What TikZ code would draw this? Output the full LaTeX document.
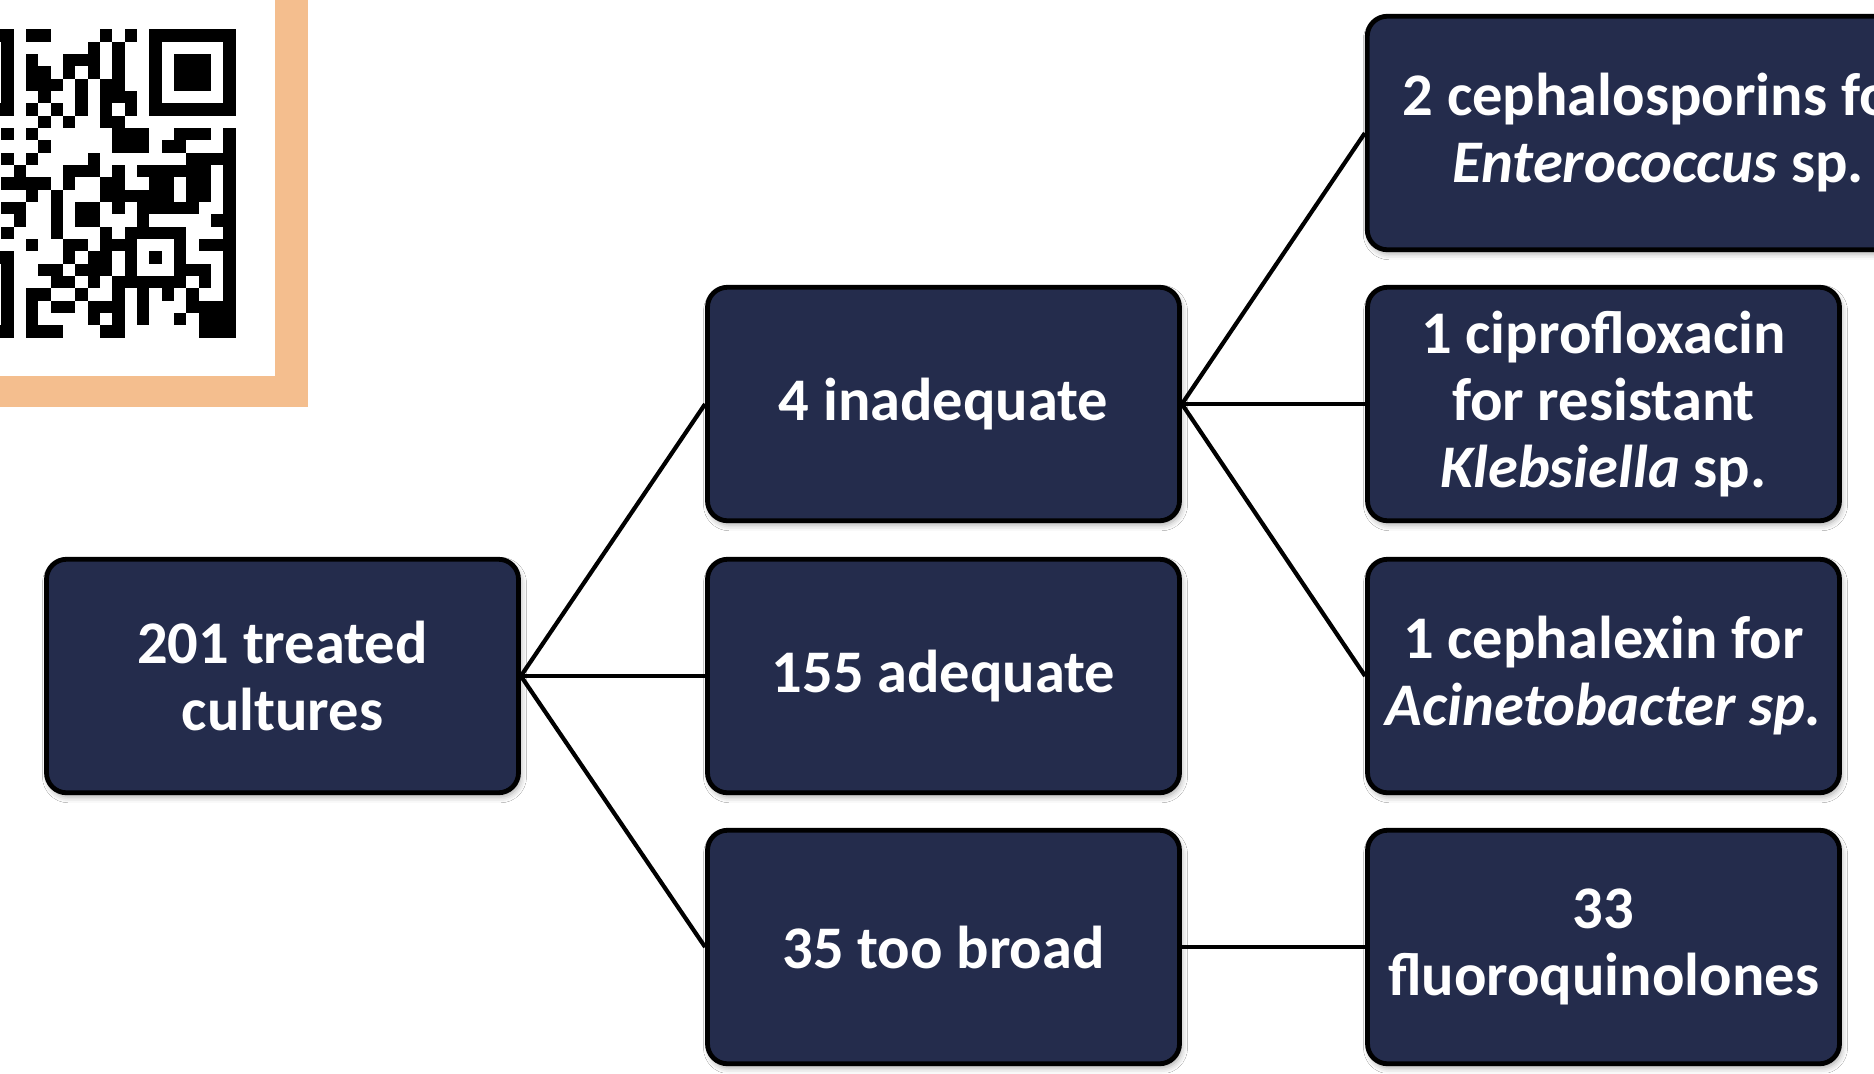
\documentclass[tikz,border=0pt]{standalone}
\usepackage{fontspec}
\setmainfont{Carlito}
\usetikzlibrary{shadows.blur}
\definecolor{navy}{RGB}{36,44,76}
\definecolor{peach}{RGB}{244,190,142}
\begin{document}
\begin{tikzpicture}[x=0.5pt,y=-0.5pt,
  box/.style={draw=black, line width=2.4pt, fill=navy, rounded corners=10pt,
    minimum width=236pt, minimum height=116.75pt, inner sep=0pt, align=center,
    text=white, font=\fontsize{30.25}{33.5}\selectfont\bfseries,
    blur shadow={shadow xshift=1pt, shadow yshift=-2pt, shadow opacity=35, shadow blur radius=3pt}},
  link/.style={draw=black, line width=2.1pt},
  qrmod/.style={fill=black}]
\useasboundingbox (0,0) rectangle (1874,1073);
\fill[white] (0,0) rectangle (1874,1073);
\clip (0,0) rectangle (1874,1073);
% orange frame
\fill[peach] (275,0) rectangle (308,407);
\fill[peach] (0,376) rectangle (308,407);
% QR code modules
\foreach \r/\cl in {
 0/{5,6,8,9,14,16,18,19,20,21,22,23,24},
 1/{6,13,15,18,24},
 2/{6,8,11,12,13,15,18,20,21,22,24},
 3/{6,8,9,11,13,15,18,20,21,22,24},
 4/{6,8,9,10,12,14,15,18,20,21,22,24},
 5/{6,9,12,14,15,16,18,24},
 6/{5,6,8,10,12,14,16,18,19,20,21,22,23,24},
 7/{9,11,14,15},
 8/{6,8,15,16,17,20,21,22,24},
 9/{9,15,16,17,19,20,24},
 10/{6,8,13,21,22,23,24},
 11/{7,11,12,13,15,17,18,19,20,21,22,24},
 12/{6,7,8,9,11,14,15,18,19,21,22,24},
 13/{8,10,14,15,16,17,18,19,21,22,24},
 14/{6,7,10,12,13,15,17,18,19,20,21,24},
 15/{7,10,12,13,17,23,24},
 16/{6,10,14,16,17,18,19,20,24},
 17/{8,11,12,14,15,16,20,22,23,24},
 18/{5,6,11,13,14,16,18,20,24},
 19/{6,9,10,12,13,14,16,20,21,22,24},
 20/{6,10,11,13,15,16,17,18,19,20,22,24},
 21/{6,8,9,12,15,17,19,21,24},
 22/{6,8,10,11,13,14,15,17,21,22,23,24},
 23/{6,8,13,15,17,20,22,23,24},
 24/{5,6,8,9,10,14,15,22,23,24}}{
  \foreach \c in \cl {
    \fill[qrmod] ({-72.7+12.33*\c},{29.3+12.33*\r}) rectangle +(12.4,12.4);
  }
}
% boxes
\node[box] (A) at (282.5,676) {201 treated\\cultures};
\node[box] (B) at (943.5,404) {4 inadequate};
\node[box] (C) at (943.5,676) {155 adequate};
\node[box] (D) at (943.5,947) {35 too broad};
\node[box, minimum width=290.75pt] (E) at (1658,133) {2 cephalosporins for\\\textit{Enterococcus} sp.};
\node[box] (F) at (1603.5,404) {1 ciprofloxacin\\for resistant\\\textit{Klebsiella} sp.};
\node[box] (G) at (1603.5,676) {1 cephalexin for\\\textit{Acinetobacter sp.}};
\node[box] (H) at (1603.5,947) {33\\fluoroquinolones};
% connectors
\draw[link] (A.east) -- (B.west);
\draw[link] (A.east) -- (C.west);
\draw[link] (A.east) -- (D.west);
\draw[link] (B.east) -- (E.west);
\draw[link] (B.east) -- (F.west);
\draw[link] (B.east) -- (G.west);
\draw[link] (D.east) -- (H.west);
\end{tikzpicture}
\end{document}
